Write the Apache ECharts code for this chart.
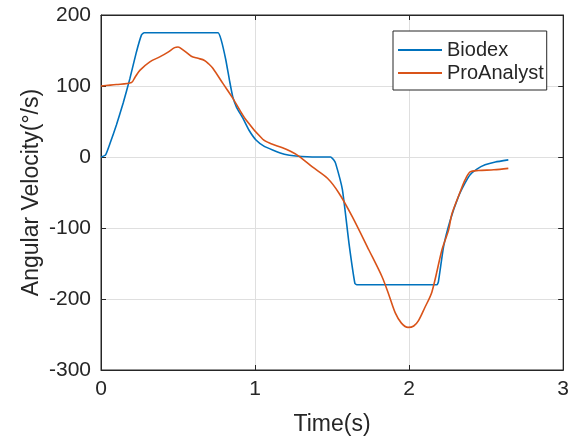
<!DOCTYPE html>
<html>
<head>
<meta charset="utf-8">
<script src="https://cdn.jsdelivr.net/npm/echarts@6/dist/echarts.min.js"></script>
<style>
html,body{margin:0;padding:0;background:#fff;}
#chart{width:572px;height:444px;}
</style>
</head>
<body>
<div id="chart"></div>
<script>
// data: [time (s), angular velocity (deg/s)]
var biodex = [
  [0,0],[0.03,3],[0.06,20],[0.1,45],[0.144,76],[0.187,110],[0.23,148],[0.263,172],[0.28,175],
  [0.5,175],[0.76,175],[0.78,165],[0.81,137],[0.834,108],[0.855,85],[0.88,70],[0.92,55],
  [0.96,38],[1.006,24],[1.06,15],[1.114,10],[1.19,4],[1.265,1.5],[1.4,0],[1.49,0],
  [1.51,-4],[1.523,-9],[1.567,-46],[1.61,-122],[1.648,-178],[1.66,-180],[2.18,-180],
  [2.19,-176],[2.224,-126],[2.267,-89],[2.32,-56],[2.36,-38],[2.396,-25],[2.44,-17],
  [2.493,-11],[2.56,-7],[2.644,-4]
];
var proAnalyst = [
  [0,100],[0.1,102],[0.198,105],[0.22,112],[0.252,122],[0.317,134],[0.381,141],[0.43,147],
  [0.478,154],[0.5,155],[0.532,151],[0.586,142],[0.63,139],[0.672,136],[0.7,131],[0.726,125],
  [0.79,104],[0.855,83],[0.942,52],[1.05,25],[1.1,19],[1.178,13],[1.23,8],[1.286,1],
  [1.372,-14],[1.47,-30],[1.545,-51],[1.631,-84],[1.739,-131],[1.825,-169],[1.87,-195],
  [1.911,-220],[1.95,-234],[1.993,-240],[2.03,-238],[2.062,-230],[2.1,-213],[2.148,-190],
  [2.213,-131],[2.256,-103],[2.278,-80],[2.33,-50],[2.364,-32],[2.396,-21],[2.45,-19],
  [2.55,-18],[2.644,-16]
];
var seriesNames = ['Biodex', 'ProAnalyst'];

var font = 'Liberation Sans, Arial, sans-serif';
var ink = '#262626';
var chart = echarts.init(document.getElementById('chart'));

// plain hyphen minus, like the original figure
function tickText(v) { return String(v); }

var boxAxis = {
  axisLine: {show: true, onZero: false, lineStyle: {color: ink, width: 1}},
  axisTick: {show: true, inside: true, length: 5, lineStyle: {color: ink}},
  axisLabel: {show: false},
  splitLine: {show: false}
};

option = {
  animation: false,
  backgroundColor: '#fff',
  grid: {left: 101, right: 7, top: 15, bottom: 74, show: true, borderColor: ink, borderWidth: 1},
  legend: {
    data: seriesNames,
    orient: 'vertical',
    left: 393, top: 31,
    padding: [9, 3, 7, 5],
    icon: 'rect',
    itemWidth: 44, itemHeight: 2, itemGap: 3,
    backgroundColor: '#fff',
    borderColor: ink, borderWidth: 1, borderRadius: 0,
    textStyle: {fontFamily: font, fontSize: 20, color: ink, lineHeight: 20}
  },
  xAxis: [
    {
      type: 'value', min: 0, max: 3, interval: 1,
      name: 'Time(s)', nameLocation: 'middle', nameGap: 43, nameMoveOverlap: false,
      nameTextStyle: {fontFamily: font, fontSize: 23, color: ink},
      axisLine: {show: true, onZero: false, lineStyle: {color: ink}},
      axisTick: {inside: true, length: 5, lineStyle: {color: ink}},
      axisLabel: {fontFamily: font, fontSize: 21, color: ink, margin: 9, formatter: tickText},
      splitLine: {show: true, lineStyle: {color: '#dfdfdf'}}
    },
    Object.assign({type: 'value', min: 0, max: 3, interval: 1, position: 'top'}, boxAxis)
  ],
  yAxis: [
    {
      type: 'value', min: -300, max: 200, interval: 100,
      name: 'Angular Velocity(°/s)', nameLocation: 'middle', nameGap: 58, nameMoveOverlap: false,
      nameTextStyle: {fontFamily: font, fontSize: 23, color: ink},
      axisLine: {show: true, onZero: false, lineStyle: {color: ink}},
      axisTick: {show: true, inside: true, length: 5, lineStyle: {color: ink}},
      axisLabel: {fontFamily: font, fontSize: 21, color: ink, margin: 10, formatter: tickText},
      splitLine: {show: true, lineStyle: {color: '#dfdfdf'}}
    },
    Object.assign({type: 'value', min: -300, max: 200, interval: 100, position: 'right'}, boxAxis)
  ],
  series: [
    {
      name: seriesNames[0], type: 'line', data: biodex,
      symbol: 'none', smooth: 0.15,
      lineStyle: {color: '#0072BD', width: 1.6},
      itemStyle: {color: '#0072BD'}
    },
    {
      name: seriesNames[1], type: 'line', data: proAnalyst,
      symbol: 'none', smooth: 0.3,
      lineStyle: {color: '#D95319', width: 1.6},
      itemStyle: {color: '#D95319'}
    }
  ]
};
chart.setOption(option);
</script>
</body>
</html>
